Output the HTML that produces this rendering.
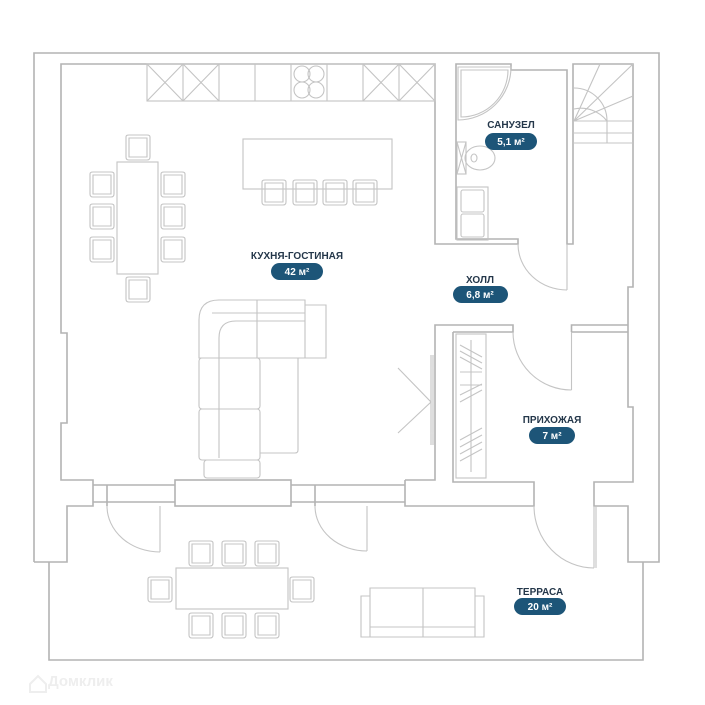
<!DOCTYPE html>
<html><head><meta charset="utf-8"><style>
html,body{margin:0;padding:0;background:#fff;}
svg{display:block;}
.w{fill:none;stroke:#b3b3b3;stroke-width:1.6;}
.f{fill:none;stroke:#c4c4c4;stroke-width:1.1;}
.t{font-family:"Liberation Sans",sans-serif;font-weight:bold;font-size:10px;fill:#24374a;text-anchor:middle;}
.p{font-family:"Liberation Sans",sans-serif;font-weight:bold;font-size:10px;fill:#fff;text-anchor:middle;}
</style></head><body>
<svg width="705" height="705" viewBox="0 0 705 705" xmlns="http://www.w3.org/2000/svg">
<defs>
<g id="ch"><path class="f" d="M0,2 Q0,0 3,0 H21 Q24,0 24,2 V22 Q24,25 21,25 H3 Q0,25 0,22 Z M3,3 H21 V22 H3 Z"/></g>
</defs>
<!-- outer walls -->
<path class="w" d="M34,562 V53 H659 V562 H628 V506 H594 V482 H633 V407 H628 V287 H633 V64 H573 V244 H567 V70 H511 V64 H456 V239 H518 V244 H435 V64 H61 V333 H67 V423 H61 V480 H93 V506 H67 V562 H34"/>
<path class="w" d="M49,562 V660 H643 V562"/>
<!-- windows/doors bottom -->
<path class="w" d="M93,485 H175 M93,502 H175 M107,485 V506"/>
<rect class="w" x="175" y="480" width="116" height="26"/>
<path class="w" d="M291,485 H405 M291,502 H405 M315,485 V506"/>
<path class="w" d="M405,480 H435 V325 H513 V332 H453 M405,480 V506 H534 V482 H453 V332"/>
<path class="w" d="M571.5,332 V325 H628 M571.5,332 H628"/>
<!-- door leaves -->
<path class="f" d="M160,506 V552 M107,506 A53,46 0 0 0 160,552"/>
<path class="f" d="M367,506 V551 M315,506 A52,45 0 0 0 367,551"/>
<path class="f" d="M594,506 V568 M596,506 V568 M534,506 A60,62 0 0 0 594,568"/>
<path class="f" d="M571.5,332 V390 M513,332 A58.5,58 0 0 0 571.5,390"/>
<path class="f" d="M567,244 V290 M518,244 A49,46 0 0 0 567,290"/>
<!-- sliding door -->
<path class="f" d="M431,355 V445 M433,355 V445 M398,368 L431,402 L398,433"/>
<!-- kitchen cabinets -->
<rect class="f" x="147" y="64" width="288" height="37"/>
<path class="f" d="M183,64V101M219,64V101M255,64V101M291,64V101M327,64V101M363,64V101M399,64V101"/>
<path class="f" d="M147,64L183,101M183,64L147,101M183,64L219,101M219,64L183,101M363,64L399,101M399,64L363,101M399,64L435,101M435,64L399,101"/>
<circle class="f" cx="302" cy="74" r="8"/><circle class="f" cx="316" cy="74" r="8"/><circle class="f" cx="302" cy="90" r="8"/><circle class="f" cx="316" cy="90" r="8"/>
<!-- dining table kitchen -->
<rect class="f" x="117" y="162" width="41" height="112"/>
<use href="#ch" x="126" y="135"/><use href="#ch" x="126" y="277"/>
<use href="#ch" x="90" y="172"/><use href="#ch" x="90" y="204"/><use href="#ch" x="90" y="237"/>
<use href="#ch" x="161" y="172"/><use href="#ch" x="161" y="204"/><use href="#ch" x="161" y="237"/>
<!-- island -->
<rect class="f" x="243" y="139" width="149" height="50"/>
<use href="#ch" x="262" y="180"/><use href="#ch" x="293" y="180"/><use href="#ch" x="323" y="180"/><use href="#ch" x="353" y="180"/>
<!-- sofa -->
<path class="f" d="M199,358 V320 Q199,300 219,300 H257 V358 Z M257,300 H305 V358 H257 M305,305 H326 V358 H305"/>
<path class="f" d="M219,458 V338 Q219,321 236,321 H305 M212,313 H305"/>
<rect class="f" x="199" y="358" width="61" height="51" rx="3"/>
<rect class="f" x="199" y="409" width="61" height="51" rx="3"/>
<rect class="f" x="204" y="460" width="56" height="18" rx="3"/>
<path class="f" d="M260,358 H298 V450 Q298,453 295,453 H260"/>
<!-- wardrobe -->
<rect class="f" x="456" y="334" width="30" height="144"/>
<path class="f" d="M471,340 V472 M460,372 H482 M460,385 H482 M460,345 L482,357 M460,351 L482,363 M460,357 L482,369 M460,395 L482,384 M460,402 L482,390 M460,440 L482,428 M460,447 L482,435 M460,454 L482,442 M460,461 L482,449"/>
<!-- shower -->
<path class="f" d="M458,67 H511 A53,53 0 0 1 458,120 Z M461,70 H508 A47,47 0 0 1 461,117 Z"/>
<!-- toilet -->
<rect class="f" x="457" y="142" width="9" height="32"/>
<path class="f" d="M457,142 L466,174 M466,142 L457,174"/>
<ellipse class="f" cx="480" cy="158" rx="15" ry="12"/>
<ellipse class="f" cx="474" cy="158" rx="3" ry="4"/>
<!-- sink -->
<rect class="f" x="457" y="187" width="31" height="53"/>
<rect class="f" x="461" y="190" width="23" height="22" rx="2"/>
<rect class="f" x="461" y="214" width="23" height="23" rx="2"/>
<!-- stairs -->
<path class="f" d="M573,133 H633 M573,143 H633 M607,121 V143 M574,121 L600,64 M574,121 L633,64 M574,121 L633,96 M574,121 H633 M574,109 A33,33 0 0 1 607,121"/>
<path class="f" d="M574,88 A33,33 0 0 1 607,121"/>
<!-- terrace table -->
<rect class="f" x="176" y="568" width="112" height="41"/>
<use href="#ch" x="189" y="541"/><use href="#ch" x="222" y="541"/><use href="#ch" x="255" y="541"/>
<use href="#ch" x="189" y="613"/><use href="#ch" x="222" y="613"/><use href="#ch" x="255" y="613"/>
<use href="#ch" x="148" y="577"/><use href="#ch" x="290" y="577"/>
<!-- terrace sofa -->
<path class="f" d="M361,596 H370 V637 H361 Z M475,596 H484 V637 H475 Z M370,588 H475 V637 H370 Z M370,627 H475 M423,588 V637"/>
<!-- labels -->
<text class="t" x="297" y="259">КУХНЯ-ГОСТИНАЯ</text>
<rect x="271" y="263" width="52" height="17" rx="8.5" fill="#1d5578"/><text class="p" x="297" y="275">42 м²</text>
<text class="t" x="511" y="128">САНУЗЕЛ</text>
<rect x="485" y="133" width="52" height="17" rx="8.5" fill="#1d5578"/><text class="p" x="511" y="145">5,1 м²</text>
<text class="t" x="480" y="283">ХОЛЛ</text>
<rect x="453" y="286" width="55" height="17" rx="8.5" fill="#1d5578"/><text class="p" x="480" y="298">6,8 м²</text>
<text class="t" x="552" y="423">ПРИХОЖАЯ</text>
<rect x="529" y="427" width="46" height="17" rx="8.5" fill="#1d5578"/><text class="p" x="552" y="439">7 м²</text>
<text class="t" x="540" y="595">ТЕРРАСА</text>
<rect x="514" y="598" width="52" height="17" rx="8.5" fill="#1d5578"/><text class="p" x="540" y="610">20 м²</text>
<text x="48" y="686" font-family="Liberation Sans,sans-serif" font-weight="bold" font-size="15" fill="#eeeeee">Домклик</text>
<path d="M30,684 L38,676 L46,684 V692 H30 Z" fill="none" stroke="#eeeeee" stroke-width="2"/>
</svg>
</body></html>
